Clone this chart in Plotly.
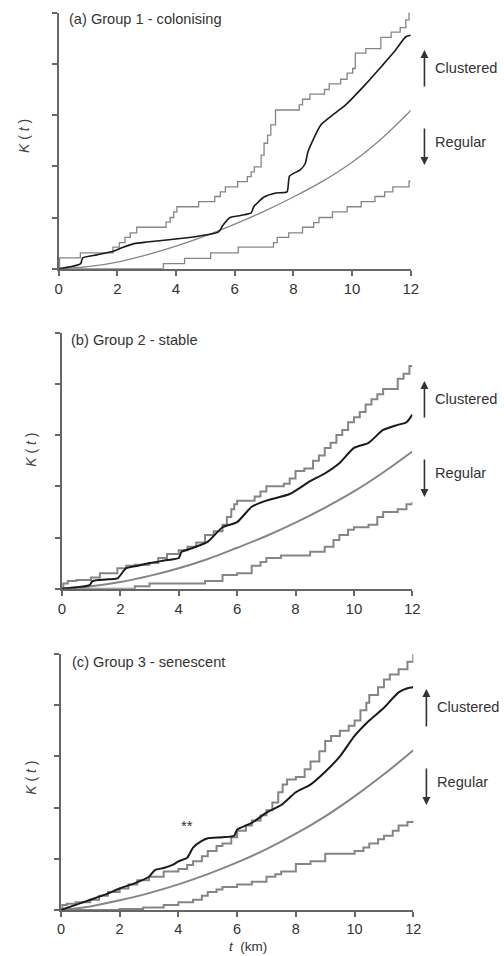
import plotly.graph_objects as go

# ---------------- data ----------------
X_TICKS = [0, 2, 4, 6, 8, 10, 12]
Y_TICKS = [0, 1, 2, 3, 4, 5]
PANEL_TITLES = ["(a) Group 1 - colonising", "(b) Group 2 - stable", "(c) Group 3 - senescent"]

# Panel (a)
a_up_t = [0, 0.03, 0.74, 1.85, 2.07, 2.26, 2.44, 2.66, 3.66, 3.80, 3.92, 4.03, 4.77, 5.32, 5.51, 5.68, 6.10, 6.43, 6.56, 6.67, 6.90, 7.00, 7.12, 7.23, 7.39, 8.20, 8.31, 8.56, 9.06, 9.22, 9.61, 9.83, 10.02, 10.11, 10.47, 10.98, 11.33, 11.64, 11.83, 11.94, 12.0]
a_up_k = [0, 0.21, 0.31, 0.42, 0.51, 0.61, 0.70, 0.81, 0.91, 1.00, 1.11, 1.21, 1.31, 1.41, 1.50, 1.60, 1.70, 1.80, 1.89, 1.99, 2.22, 2.45, 2.61, 2.81, 3.10, 3.20, 3.31, 3.41, 3.50, 3.61, 3.70, 3.82, 3.91, 4.21, 4.30, 4.52, 4.62, 4.71, 4.86, 5.0, 5.0]
a_lo_t = [0, 3.57, 4.29, 5.18, 6.12, 7.32, 7.45, 7.84, 8.31, 8.69, 8.87, 9.33, 9.83, 10.31, 10.78, 11.11, 11.39, 11.94, 12.0]
a_lo_k = [0, 0.10, 0.20, 0.31, 0.42, 0.51, 0.61, 0.70, 0.81, 0.90, 1.00, 1.11, 1.21, 1.31, 1.41, 1.50, 1.60, 1.71, 1.71]
a_exp_t = [0, 1, 2, 3, 4, 5, 6, 7, 8, 9, 10, 11, 12]
a_exp_k = [0, 0.04, 0.13, 0.27, 0.44, 0.64, 0.87, 1.12, 1.40, 1.71, 2.08, 2.54, 3.09]
a_obs_t = [0, 0.5, 0.75, 0.82, 1.3, 1.8, 2.2, 2.57, 3.0, 3.68, 4.3, 4.79, 5.45, 5.6, 5.84, 6.2, 6.56, 6.65, 7.0, 7.4, 7.78, 7.87, 8.23, 8.4, 8.5, 8.94, 9.33, 9.78, 10.44, 11.0, 11.44, 11.83, 12.0]
a_obs_k = [0, 0.05, 0.10, 0.21, 0.27, 0.33, 0.42, 0.49, 0.52, 0.56, 0.60, 0.64, 0.72, 0.85, 1.0, 1.04, 1.09, 1.21, 1.40, 1.48, 1.50, 1.81, 1.93, 2.05, 2.29, 2.81, 3.0, 3.20, 3.59, 3.95, 4.24, 4.53, 4.56]

# Panel (b)
b_up_t = [0, 0.05, 0.2, 0.5, 1.0, 1.3, 1.9, 2.2, 2.5, 3.0, 3.3, 3.6, 4.0, 4.3, 4.6, 4.9, 5.2, 5.5, 5.65, 5.8, 5.9, 6.0, 6.6, 6.8, 7.0, 7.6, 7.8, 8.0, 8.3, 8.6, 8.8, 9.0, 9.2, 9.4, 9.6, 9.8, 10.0, 10.2, 10.4, 10.6, 10.8, 11.0, 11.5, 11.7, 11.9, 12.0]
b_up_k = [0, 0.1, 0.15, 0.17, 0.22, 0.30, 0.40, 0.45, 0.47, 0.50, 0.60, 0.68, 0.75, 0.82, 0.90, 1.05, 1.12, 1.25, 1.40, 1.55, 1.65, 1.72, 1.80, 1.90, 2.0, 2.05, 2.15, 2.30, 2.35, 2.5, 2.6, 2.75, 2.85, 3.0, 3.1, 3.25, 3.35, 3.45, 3.6, 3.7, 3.8, 3.9, 4.1, 4.2, 4.35, 4.35]
b_lo_t = [0, 2.5, 3.0, 4.9, 5.5, 6.0, 6.5, 6.8, 7.0, 7.5, 8.5, 9.0, 9.3, 9.5, 9.8, 10.0, 10.5, 10.8, 11.0, 11.5, 11.8, 12.0]
b_lo_k = [0, 0.05, 0.10, 0.15, 0.27, 0.30, 0.45, 0.52, 0.60, 0.65, 0.72, 0.82, 0.95, 1.05, 1.15, 1.20, 1.25, 1.40, 1.50, 1.55, 1.65, 1.70]
b_exp_t = [0, 1, 2, 3, 4, 5, 6, 7, 8, 9, 10, 11, 12]
b_exp_k = [0, 0.05, 0.13, 0.25, 0.40, 0.58, 0.80, 1.03, 1.29, 1.58, 1.90, 2.27, 2.68]
b_obs_t = [0, 0.5, 0.95, 1.05, 1.5, 1.9, 2.2, 2.6, 3.0, 3.5, 4.0, 4.1, 4.5, 5.0, 5.5, 6.0, 6.5, 7.0, 7.8, 8.5, 9.0, 9.5, 10.0, 10.5, 11.0, 11.5, 11.8, 12.0]
b_obs_k = [0, 0.03, 0.07, 0.15, 0.18, 0.20, 0.40, 0.45, 0.50, 0.55, 0.60, 0.72, 0.80, 0.92, 1.2, 1.3, 1.6, 1.72, 1.85, 2.1, 2.25, 2.45, 2.75, 2.85, 3.1, 3.2, 3.25, 3.4]

# Panel (c)
c_up_t = [0, 0.05, 0.2, 0.5, 1.0, 1.3, 1.6, 2.0, 2.3, 2.6, 3.0, 3.5, 4.0, 4.3, 4.5, 4.8, 5.0, 5.3, 5.5, 5.8, 6.0, 6.3, 6.5, 6.8, 7.0, 7.2, 7.4, 7.55, 7.7, 8.0, 8.3, 8.5, 8.8, 9.0, 9.2, 9.5, 9.8, 10.0, 10.2, 10.4, 10.5, 10.8, 11.0, 11.2, 11.5, 11.8, 12.0]
c_up_k = [0, 0.10, 0.12, 0.15, 0.20, 0.28, 0.35, 0.42, 0.50, 0.58, 0.65, 0.75, 0.80, 0.88, 0.95, 1.05, 1.15, 1.25, 1.30, 1.42, 1.55, 1.65, 1.75, 1.85, 1.95, 2.1, 2.3, 2.45, 2.55, 2.6, 2.75, 2.9, 3.1, 3.3, 3.4, 3.5, 3.6, 3.7, 3.9, 4.05, 4.2, 4.35, 4.5, 4.6, 4.7, 4.85, 5.05]
c_lo_t = [0, 2.0, 2.8, 3.5, 4.0, 4.5, 4.8, 5.0, 5.3, 5.5, 6.0, 6.5, 7.0, 7.3, 7.5, 8.0, 8.5, 9.0, 10.0, 10.3, 10.5, 10.8, 11.0, 11.3, 11.5, 11.8, 12.0]
c_lo_k = [0, 0.02, 0.05, 0.10, 0.15, 0.20, 0.28, 0.35, 0.40, 0.45, 0.50, 0.55, 0.65, 0.70, 0.75, 0.90, 0.95, 1.10, 1.15, 1.22, 1.30, 1.38, 1.45, 1.55, 1.65, 1.72, 1.75]
c_exp_t = [0, 1, 2, 3, 4, 5, 6, 7, 8, 9, 10, 11, 12]
c_exp_k = [0, 0.07, 0.19, 0.33, 0.50, 0.70, 0.93, 1.19, 1.49, 1.83, 2.22, 2.65, 3.12]
c_obs_t = [0, 0.5, 1.0, 1.5, 2.0, 2.5, 3.0, 3.2, 3.5, 3.8, 4.0, 4.3, 4.5, 4.8, 5.0, 5.5, 5.9, 6.0, 6.5, 7.0, 7.5, 8.0, 8.5, 9.0, 9.5, 10.0, 10.5, 11.0, 11.5, 11.8, 12.0]
c_obs_k = [0, 0.10, 0.20, 0.30, 0.42, 0.52, 0.65, 0.78, 0.82, 0.88, 0.95, 1.02, 1.22, 1.35, 1.40, 1.42, 1.45, 1.57, 1.70, 1.90, 2.05, 2.30, 2.45, 2.70, 3.0, 3.40, 3.70, 3.95, 4.25, 4.33, 4.35]

SIG_T, SIG_K = [4.3], [1.66]

# ---------------- layout helpers ----------------
W, H = 504, 956
FONT = "Liberation Sans, Arial, sans-serif"
GREY = "#858585"
BLACK = "#1a1a1a"
AXC = "#666666"
TXT = "#333333"

def px(x):
    return x / W

def py(y):
    return 1 - y / H

# pixel boxes: (left, right, top, bottom)
boxes = [(56, 416.7, 12.7, 268.7), (59.3, 418.3, 332.7, 588.7), (58.3, 419.3, 654, 910)]
tick_sizes = [15, 15, 14.5]

panels = [
    (a_up_t, a_up_k, a_lo_t, a_lo_k, a_exp_t, a_exp_k, a_obs_t, a_obs_k, 1.3, 1.6),
    (b_up_t, b_up_k, b_lo_t, b_lo_k, b_exp_t, b_exp_k, b_obs_t, b_obs_k, 2.0, 2.0),
    (c_up_t, c_up_k, c_lo_t, c_lo_k, c_exp_t, c_exp_k, c_obs_t, c_obs_k, 2.0, 2.0),
]

fig = go.Figure()
layout = dict(
    width=W, height=H, margin=dict(l=0, r=0, t=0, b=0),
    paper_bgcolor="white", plot_bgcolor="white", showlegend=False,
    font=dict(family=FONT, size=15, color=TXT),
)
annotations = []

for i, (ut, uk, lt, lk, et, ek, ot, ok, gw, bw) in enumerate(panels):
    n = "" if i == 0 else str(i + 1)
    xa, ya = "x" + n, "y" + n
    l, r, t, b = boxes[i]
    layout["xaxis" + n] = dict(
        domain=[px(l), px(r)], range=[0, 12], anchor=ya,
        tickvals=X_TICKS, ticks="outside", ticklen=5, tickwidth=1.5, tickcolor=AXC,
        showline=True, linecolor=AXC, linewidth=2, showgrid=False, zeroline=False,
        tickfont=dict(family=FONT, size=tick_sizes[i], color=TXT), ticklabelstandoff=0,
    )
    layout["yaxis" + n] = dict(
        domain=[py(b), py(t)], range=[0, 5], anchor=xa,
        tickvals=Y_TICKS, ticks="outside", ticklen=5, tickwidth=1.5, tickcolor=AXC,
        showticklabels=False, showline=True, linecolor=AXC, linewidth=2,
        showgrid=False, zeroline=False,
    )
    fig.add_trace(go.Scatter(x=ut, y=uk, mode="lines", line=dict(color=GREY, width=gw, shape="hv"), xaxis=xa, yaxis=ya))
    fig.add_trace(go.Scatter(x=lt, y=lk, mode="lines", line=dict(color=GREY, width=gw, shape="hv"), xaxis=xa, yaxis=ya))
    fig.add_trace(go.Scatter(x=et, y=ek, mode="lines", line=dict(color=GREY, width=gw, shape="spline"), xaxis=xa, yaxis=ya))
    fig.add_trace(go.Scatter(x=ot, y=ok, mode="lines", line=dict(color=BLACK, width=bw, shape="spline", smoothing=0.6), xaxis=xa, yaxis=ya))

    # panel title
    ttl_y = [19, 340, 662][i]
    ttl_x = [65, 67, 68][i]
    annotations.append(dict(text=PANEL_TITLES[i], xref="paper", yref="paper",
                            x=px(ttl_x), y=py(ttl_y), xanchor="left", yanchor="middle",
                            showarrow=False, font=dict(family=FONT, size=14.6, color=TXT)))
    # y-axis label
    kx = [20.5, 27.5, 27.5][i]
    ky = [136, 450, 778][i]
    annotations.append(dict(text="<i>K</i> ( <i>t</i> )", xref="paper", yref="paper",
                            x=px(kx), y=py(ky), xanchor="center", yanchor="middle",
                            textangle=-90, showarrow=False, font=dict(family=FONT, size=14, color="#444444")))
    # arrows + labels
    ax_x = [430.7, 430.7, 432.7][i]
    up = [(50, 88), (381, 419), (689, 728)][i]
    dn = [(165, 127), (497, 458), (805, 767)][i]
    cl_y = [68, 399, 707][i]
    rg_y = [142, 473, 782][i]
    txt_x = ax_x + 8.5
    annotations.append(dict(text="", xref="paper", yref="paper", x=px(ax_x), y=py(up[0]),
                            ax=0, ay=up[1] - up[0], showarrow=True, arrowhead=2, arrowsize=1,
                            arrowwidth=1.6, arrowcolor=TXT, standoff=0, startstandoff=0))
    annotations.append(dict(text="", xref="paper", yref="paper", x=px(ax_x), y=py(dn[0]),
                            ax=0, ay=dn[1] - dn[0], showarrow=True, arrowhead=2, arrowsize=1,
                            arrowwidth=1.6, arrowcolor=TXT, standoff=0, startstandoff=0))
    annotations.append(dict(text="Clustered", xref="paper", yref="paper", x=px(txt_x), y=py(cl_y),
                            xanchor="left", yanchor="middle", showarrow=False,
                            font=dict(family=FONT, size=14.6, color=TXT)))
    annotations.append(dict(text="Regular", xref="paper", yref="paper", x=px(txt_x), y=py(rg_y),
                            xanchor="left", yanchor="middle", showarrow=False,
                            font=dict(family=FONT, size=14.6, color=TXT)))

# significance marker in panel (c)
annotations.append(dict(text="**", xref="x3", yref="y3", x=SIG_T[0], y=SIG_K[0],
                        showarrow=False, font=dict(family=FONT, size=15, color=TXT)))
# x-axis title
annotations.append(dict(text="<i>t</i>  (km)", xref="paper", yref="paper", x=px(250), y=0,
                        xanchor="center", yanchor="bottom", showarrow=False,
                        font=dict(family=FONT, size=13.5, color=TXT)))

layout["annotations"] = annotations
fig.update_layout(**layout)
fig.write_html("out.html")
